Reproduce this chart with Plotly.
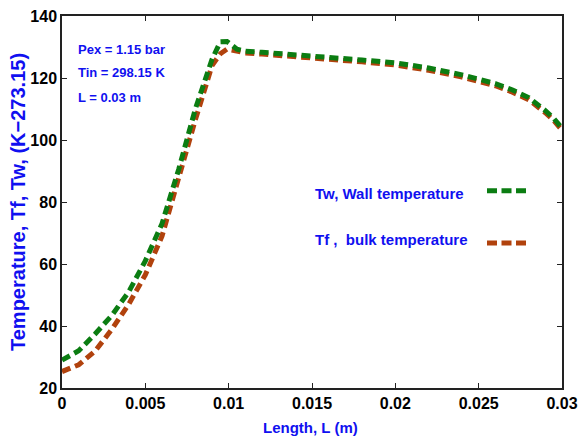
import plotly.graph_objects as go

L = [0, 0.001, 0.002, 0.003, 0.004, 0.005, 0.006, 0.007, 0.008, 0.009, 0.0095, 0.0099,
     0.0105, 0.011, 0.012, 0.014, 0.016, 0.018, 0.020, 0.022, 0.024, 0.026, 0.027,
     0.028, 0.029, 0.0295, 0.030]
Tw = [29.0, 32.0, 37.5, 43.5, 51.0, 61.0, 73.0, 90.5, 110.0, 126.0, 131.7, 131.8,
      129.3, 128.6, 128.3, 127.6, 126.7, 125.8, 124.9, 123.2, 121.0, 118.2, 116.2,
      113.7, 109.5, 107.0, 103.8]
Tf = [25.3, 27.5, 32.0, 39.0, 47.0, 56.5, 69.0, 88.5, 106.5, 124.0, 127.8, 129.3,
      128.6, 128.1, 127.7, 127.0, 126.1, 125.2, 124.2, 122.5, 120.3, 117.5, 115.5,
      113.0, 108.8, 106.3, 103.2]

x_ticks = [0, 0.005, 0.01, 0.015, 0.02, 0.025, 0.03]
x_ticktext = ["0", "0.005", "0.01", "0.015", "0.02", "0.025", "0.03"]
y_ticks = [20, 40, 60, 80, 100, 120, 140]

GREEN = "#0b7d12"
BROWN = "#b1420d"
BLUE = "#1010f0"
FONT = "Arial, Liberation Sans, sans-serif"
DASH = "9px,5px"

fig = go.Figure()
fig.add_trace(go.Scatter(x=L, y=Tf, mode="lines", name="Tf",
                         line=dict(color=BROWN, width=5, dash=DASH), showlegend=False))
fig.add_trace(go.Scatter(x=L, y=Tw, mode="lines", name="Tw",
                         line=dict(color=GREEN, width=5, dash=DASH), showlegend=False))

axis_common = dict(showgrid=False, zeroline=False, showline=True, linecolor="#222",
                   linewidth=1.5, mirror="ticks", ticks="inside", ticklen=5,
                   tickcolor="#222", tickwidth=1.2, automargin=False,
                   tickfont=dict(family=FONT, size=16, color="black", weight="bold"))

fig.update_layout(
    width=578, height=436,
    margin=dict(l=62, r=16, t=16, b=48),
    paper_bgcolor="white", plot_bgcolor="white",
    xaxis=dict(range=[0, 0.03], tickvals=x_ticks, ticktext=x_ticktext, **axis_common),
    yaxis=dict(range=[20, 140], tickvals=y_ticks, **axis_common),
)

def ann(text, x, y, size, xanchor="left", angle=0):
    fig.add_annotation(text=text, x=x, y=y, xref="paper", yref="paper",
                       xanchor=xanchor, yanchor="middle", showarrow=False,
                       textangle=angle,
                       font=dict(family=FONT, size=size, color=BLUE, weight="bold"))

ann("Pex = 1.15 bar", 0.028, 0.909, 13)
ann("Tin = 298.15 K", 0.028, 0.847, 13)
ann("L = 0.03 m", 0.028, 0.780, 13)
ann("Tw, Wall temperature", 0.502, 0.524, 15)
ann("Tf ,\u00a0 bulk temperature", 0.502, 0.398, 15)
ann("Length, L (m)", 0.496, -0.105, 15, xanchor="center")
ann("Temperature, Tf, Tw, (K\u2212273.15)", -0.088, 0.5, 20, xanchor="center", angle=-90)

fig.add_shape(type="line", xref="paper", yref="paper", x0=0.85, x1=0.928, y0=0.530, y1=0.530,
              line=dict(color=GREEN, width=5, dash="10px,4.5px"))
fig.add_shape(type="line", xref="paper", yref="paper", x0=0.85, x1=0.928, y0=0.390, y1=0.390,
              line=dict(color=BROWN, width=5, dash="10px,4.5px"))

fig.write_html("out.html")
